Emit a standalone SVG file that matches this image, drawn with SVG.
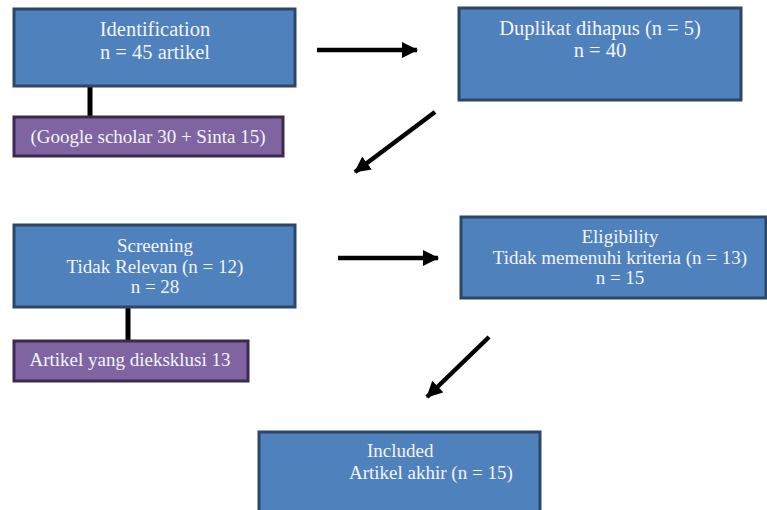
<svg xmlns="http://www.w3.org/2000/svg" width="767" height="510" viewBox="0 0 767 510">
<style>
.blue{fill:#4F81BD;stroke:#2C4668;stroke-width:3}
.purple{fill:#8064A2;stroke:#3A2A4F;stroke-width:3}
text{font-family:"Liberation Serif","Times New Roman",serif;font-size:19px;fill:#F2F4F8}
.big{font-size:20.5px}
.c{text-anchor:middle}
.conn{stroke:#000;stroke-width:5;fill:none}
.arr{stroke:#000;stroke-width:4.5;fill:none}
</style>
<defs>
<marker id="ah" markerUnits="userSpaceOnUse" viewBox="0 0 16 16" refX="15" refY="8" markerWidth="16" markerHeight="16" orient="auto">
<path d="M0,0 L16,8 L0,16 Z" fill="#000"/>
</marker>
</defs>
<rect width="767" height="510" fill="#fff"/>
<g id="connectors">
<line class="conn" x1="90" y1="86" x2="90" y2="117"/>
<line class="conn" x1="128" y1="307" x2="128" y2="341"/>
<line class="arr" x1="317" y1="50" x2="417" y2="50" marker-end="url(#ah)"/>
<line class="arr" x1="435" y1="112" x2="355" y2="172" marker-end="url(#ah)"/>
<line class="arr" x1="338" y1="258" x2="438" y2="258" marker-end="url(#ah)"/>
<line class="arr" x1="489" y1="337" x2="427" y2="397" marker-end="url(#ah)"/>
</g>
<g id="identification">
<rect class="blue" x="14" y="9" width="281" height="77"/>
<text class="c big" x="155" y="36">Identification</text>
<text class="c big" x="155" y="59">n = 45 artikel</text>
</g>
<g id="sources">
<rect class="purple" x="14" y="117" width="269" height="39"/>
<text class="c" x="148" y="143">(Google scholar 30 + Sinta 15)</text>
</g>
<g id="duplikat">
<rect class="blue" x="459" y="8" width="282" height="92"/>
<text class="c big" x="600" y="35">Duplikat dihapus (n = 5)</text>
<text class="c big" x="600" y="57">n = 40</text>
</g>
<g id="screening">
<rect class="blue" x="14" y="225" width="281" height="82"/>
<text class="c" x="155" y="252">Screening</text>
<text class="c" x="155" y="273">Tidak Relevan (n = 12)</text>
<text class="c" x="155" y="293">n = 28</text>
</g>
<g id="excluded">
<rect class="purple" x="14" y="341" width="234" height="40"/>
<text class="c" x="130" y="366">Artikel yang dieksklusi 13</text>
</g>
<g id="eligibility">
<rect class="blue" x="461" y="217" width="305" height="81"/>
<text class="c" x="620" y="243">Eligibility</text>
<text class="c" x="620" y="264">Tidak memenuhi kriteria (n = 13)</text>
<text class="c" x="620" y="284">n = 15</text>
</g>
<g id="included">
<rect class="blue" x="259" y="432" width="281" height="90"/>
<text x="367" y="457">Included</text>
<text x="349" y="479">Artikel akhir (n = 15)</text>
</g>
</svg>
